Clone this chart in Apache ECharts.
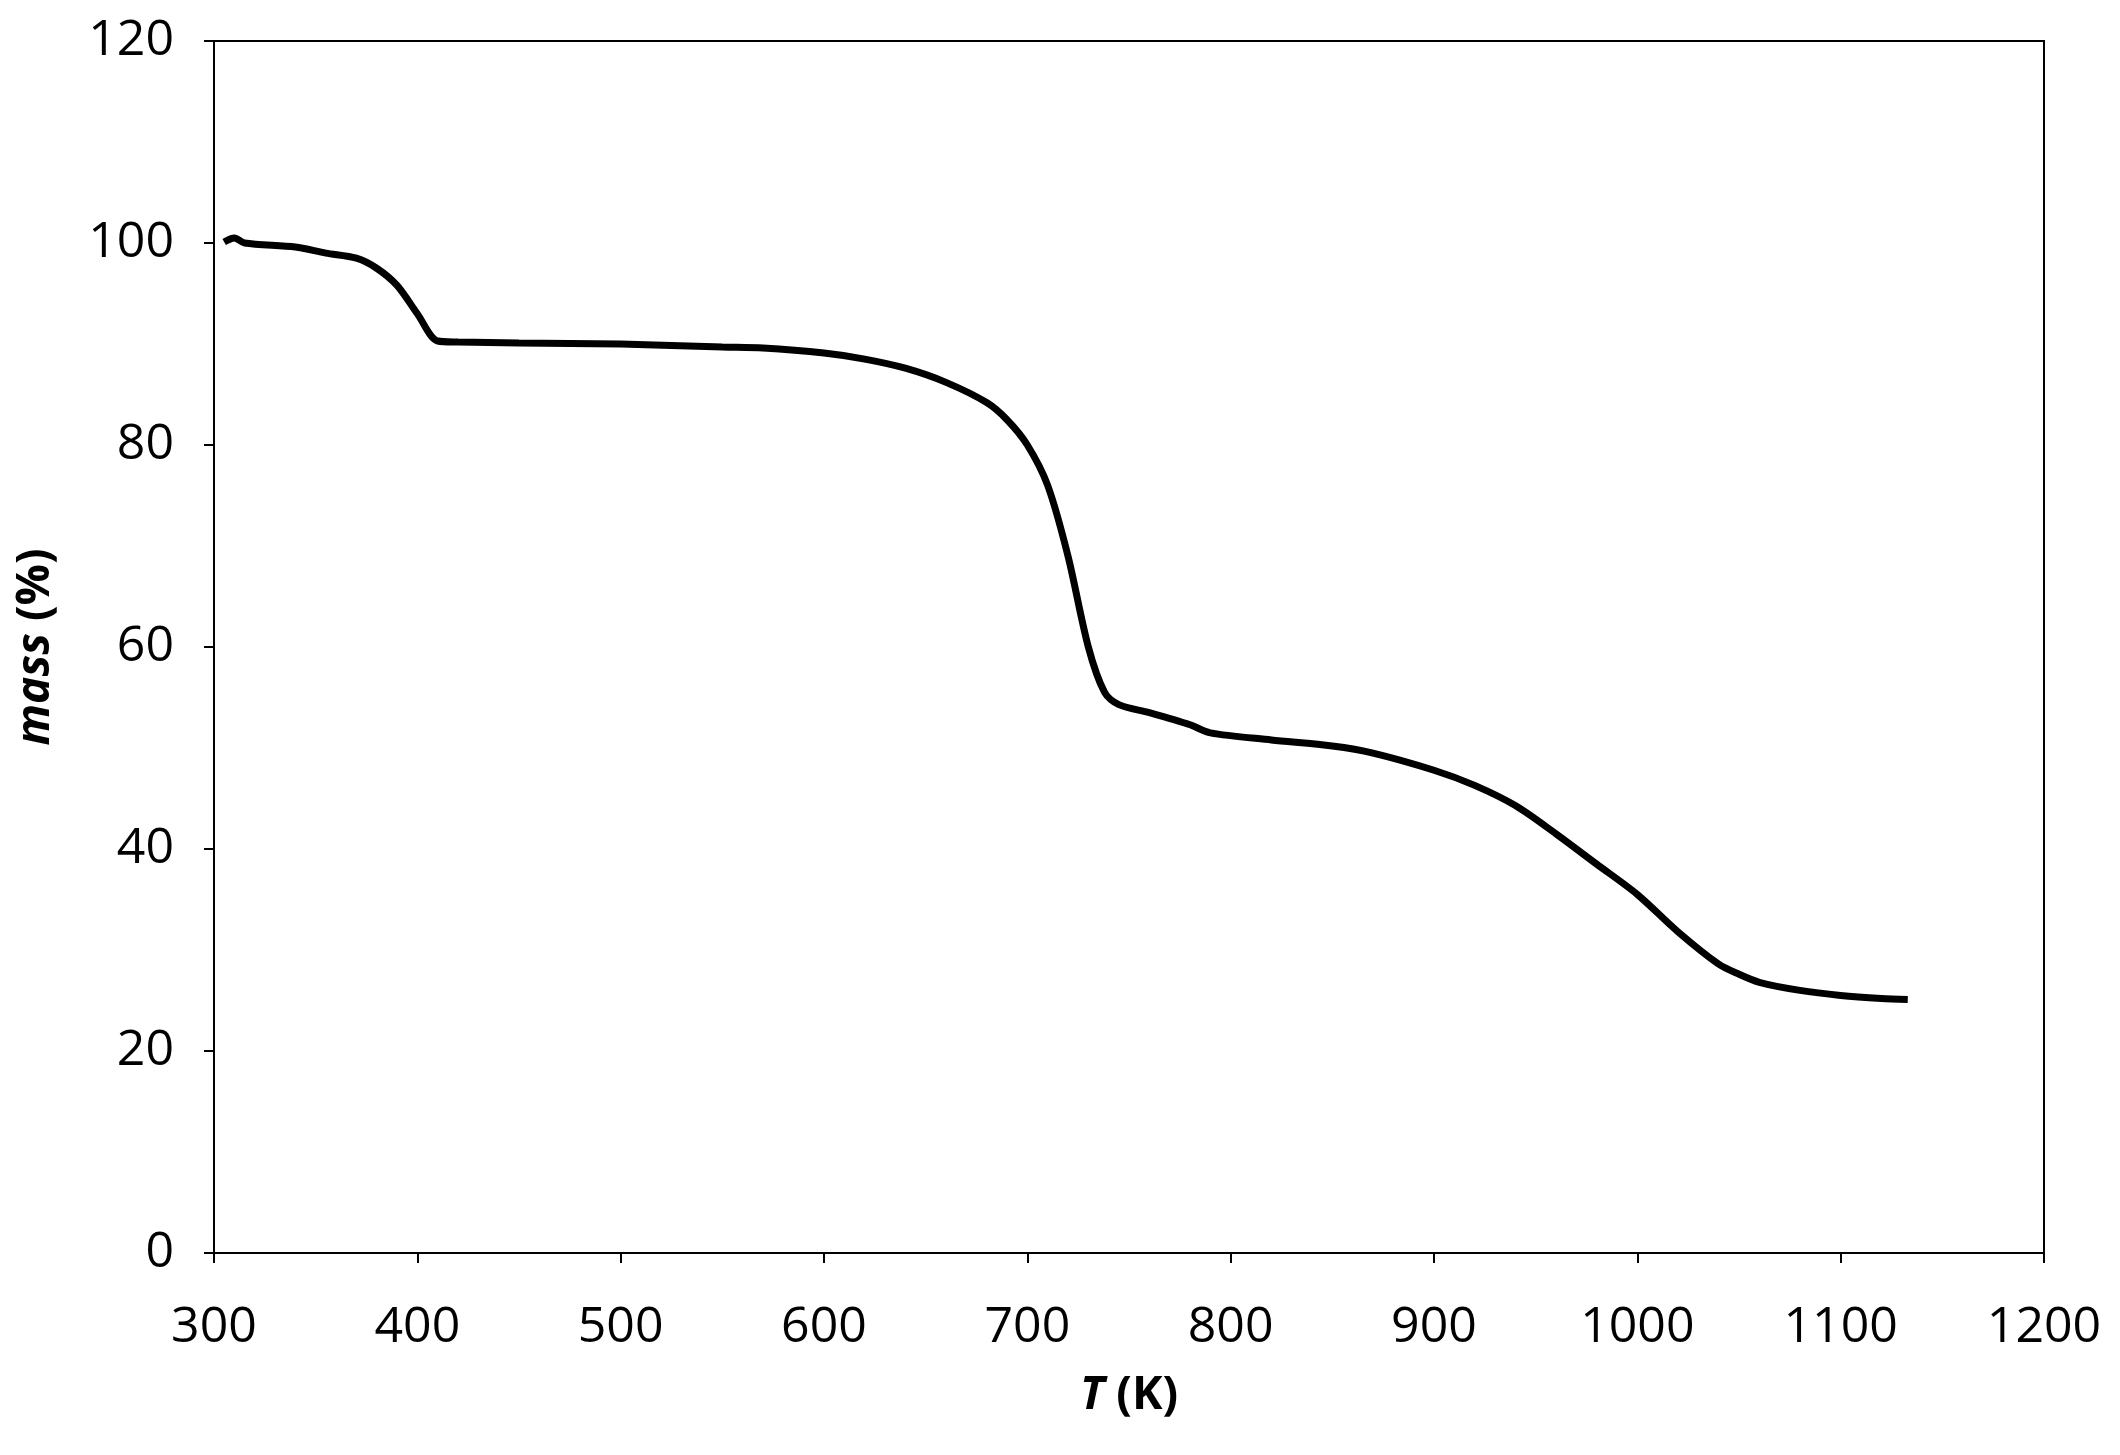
<!DOCTYPE html>
<html><head><meta charset="utf-8">
<script src="https://cdn.jsdelivr.net/npm/echarts@6/dist/echarts.min.js"></script>
<style>html,body{margin:0;background:#fff}#c{width:2120px;height:1455px}</style>
</head><body><div id="c"></div>
<script>
const temps = [305,310,315,340,355,370,380,390,400,410,420,450,500,550,570,600,620,640,660,680,690,700,710,720,730,738,745,760,780,790,820,850,870,900,920,940,960,980,1000,1020,1040,1050,1060,1080,1100,1120,1133];
const mass = [100.1,100.5,100,99.6,99,98.5,97.5,95.8,93,90.3,90.2,90.1,90,89.7,89.6,89.1,88.5,87.6,86.2,84.2,82.5,80,76,69,60,55.5,54.3,53.5,52.3,51.5,50.8,50.2,49.5,47.8,46.3,44.3,41.5,38.5,35.5,31.8,28.6,27.6,26.8,26,25.5,25.2,25.1];
const font = "'Open Sans', 'Noto Sans', sans-serif";
const rich = {i:{fontStyle:'italic',fontWeight:'bold',fontSize:46,fontFamily:font,color:'#000'},b:{fontWeight:'bold',fontSize:46,fontFamily:font,color:'#000'}};
const chart = echarts.init(document.getElementById('c'));
chart.setOption({
  animation:false,
  grid:{left:214,right:76,top:41,bottom:202,show:true,borderColor:'#000',borderWidth:2},
  xAxis:{type:'value',min:300,max:1200,interval:100,
    name:'{i|T}{b| (K)}',nameLocation:'middle',nameGap:120,
    nameTextStyle:{rich},
    axisLine:{lineStyle:{color:'#000',width:2}},axisTick:{show:true,inside:false,length:10,lineStyle:{color:'#000',width:2}},
    axisLabel:{fontSize:50,color:'#000',fontFamily:font,margin:50,formatter:v=>String(v)},splitLine:{show:false}},
  yAxis:{type:'value',min:0,max:120,interval:20,
    name:'{i|mass}{b| (%)}',nameLocation:'middle',nameGap:155,nameRotate:90,
    nameTextStyle:{rich},
    axisLine:{show:true,lineStyle:{color:'#000',width:2}},axisTick:{show:true,inside:false,length:10,lineStyle:{color:'#000',width:2}},
    axisLabel:{fontSize:50,color:'#000',fontFamily:font,margin:40,formatter:v=>String(v)},splitLine:{show:false}},
  series:[{type:'line',data:temps.map((t,i)=>[t,mass[i]]),smooth:0.3,showSymbol:false,
    lineStyle:{color:'#000',width:7}}]
});
</script></body></html>
